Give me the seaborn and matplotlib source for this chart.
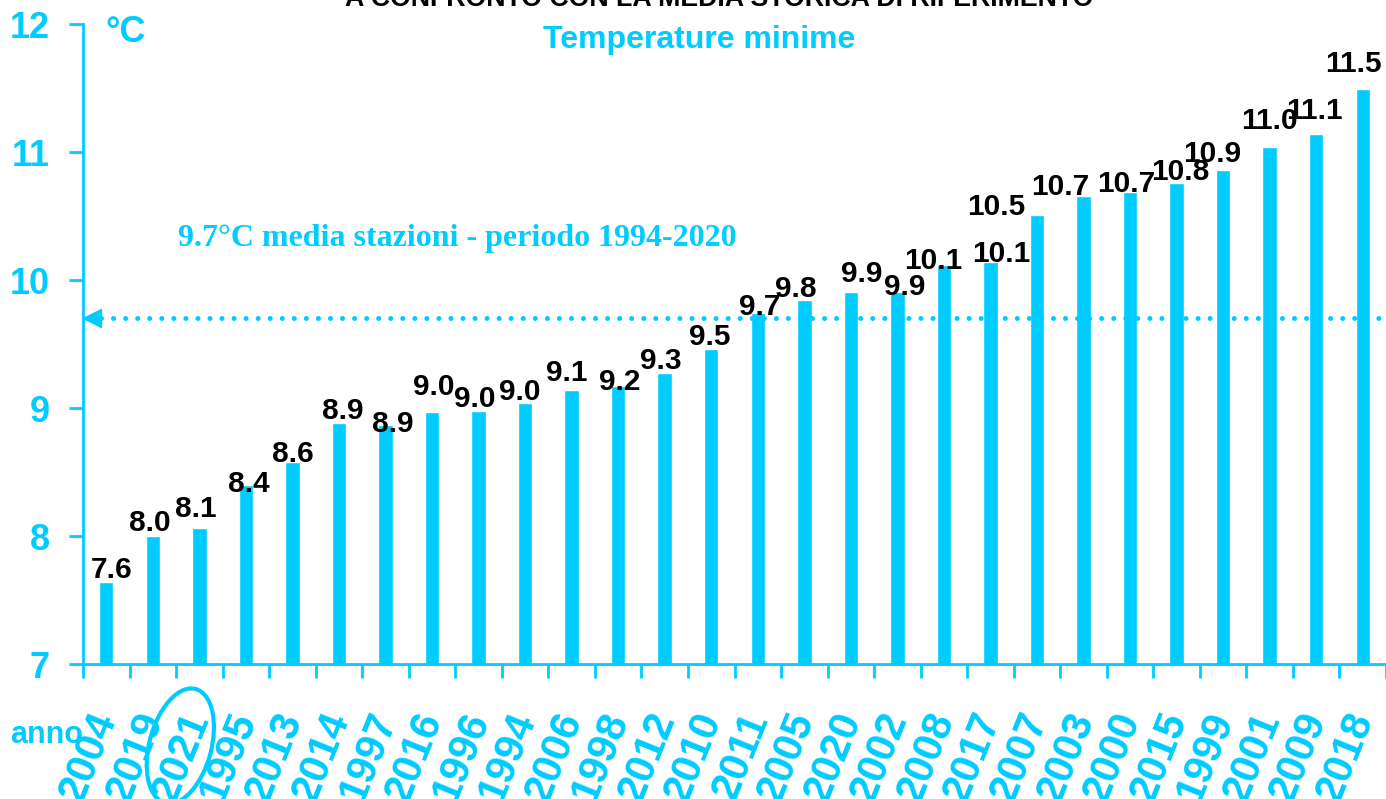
import matplotlib
matplotlib.use("Agg")
import matplotlib.pyplot as plt
import seaborn as sns
import pandas as pd
from matplotlib.patches import Ellipse
from matplotlib.transforms import IdentityTransform

# ---- data ----
anni = ["2004", "2019", "2021", "1995", "2013", "2014", "1997", "2016", "1996", "1994",
        "2006", "1998", "2012", "2010", "2011", "2005", "2020", "2002", "2008", "2017",
        "2007", "2003", "2000", "2015", "1999", "2001", "2009", "2018"]
temp_min = [7.64, 8.00, 8.06, 8.40, 8.58, 8.88, 8.87, 8.97, 8.98, 9.04,
            9.14, 9.17, 9.27, 9.46, 9.74, 9.84, 9.91, 9.91, 10.12, 10.14,
            10.51, 10.66, 10.69, 10.76, 10.86, 11.04, 11.14, 11.49]
media_storica = 9.7
y_ticks = [7, 8, 9, 10, 11, 12]
anno_evidenziato = "2021"

# ---- label layout (pixel nudges of the value labels, as in the original) ----
label_dx = [5, -3, -4, 3, 0, 4, 7, 2, -4, -5, -5, 2, -4, -1, 2, -9, 11, 7, -11, 11,
            -41, -23, -4, 4, -11, 0, -2, -9]
label_dy = [4, 5, 11, -7, 0, 4, -7, 17, 4, 3, 9, -4, 4, 4, -2, 3, 10, -3, -4, 0,
            0, 1, 0, 3, 8, 18, 15, 17]

CYAN = "#00ccff"

sns.set_theme(style="white")
plt.rcParams["font.family"] = ["Liberation Sans", "DejaVu Sans"]

df = pd.DataFrame({"anno": anni, "temp": temp_min})

W, H = 1386, 799
fig = plt.figure(figsize=(W / 100, H / 100), dpi=100)
ax = fig.add_axes([83 / W, 1 - 664 / H, (W - 83) / W, (664 - 24) / H])

sns.barplot(data=df, x="anno", y="temp", order=anni, color=CYAN, saturation=1,
            width=0.31, ax=ax)

ax.set_xlim(-0.5, 27.41)
ax.set_ylim(7, 12)
ax.set_xlabel("")
ax.set_ylabel("")

for s in ["top", "right"]:
    ax.spines[s].set_visible(False)
for s in ["left", "bottom"]:
    ax.spines[s].set_color(CYAN)
    ax.spines[s].set_linewidth(2)

ax.set_yticks(y_ticks)
ax.set_yticklabels([str(t) for t in y_ticks], fontsize=26, fontweight="bold", color=CYAN)
ax.tick_params(axis="y", direction="out", length=10, width=2, color=CYAN, pad=14, left=True)

ax.set_xticks(range(len(anni)))
ax.set_xticklabels(anni, fontsize=30, fontweight="bold", color=CYAN, rotation=68,
                   ha="right", va="center", rotation_mode="anchor")
ax.tick_params(axis="x", which="major", length=0, pad=36)
ax.set_xticks([i - 0.5 for i in range(len(anni) + 1)], minor=True)
ax.tick_params(axis="x", which="minor", direction="out", length=10, width=2,
               color=CYAN, bottom=True)

# value labels
for i, v in enumerate(temp_min):
    ax.annotate(f"{v:.1f}", xy=(i, v), xytext=(label_dx[i], label_dy[i]),
                textcoords="offset pixels", ha="center", va="baseline",
                fontsize=21.5, fontweight="bold", color="black", annotation_clip=False)

# mean line
ax.axhline(media_storica, xmin=0.014, xmax=1, color=CYAN, lw=3.6,
           linestyle=(0, (0.01, 2.4)), dash_capstyle="round")
ax.plot([0.007], [media_storica], marker="<", markersize=13, color=CYAN,
        transform=ax.get_yaxis_transform(), clip_on=False)
ax.text((178 - 83) / (W - 83), 7 + (664 - 246) / 128,
        f"{media_storica}°C media stazioni - periodo 1994-2020",
        transform=ax.get_yaxis_transform(), fontsize=23, fontweight="bold",
        family=["Liberation Serif", "DejaVu Serif"], color=CYAN, va="baseline")

# texts
fig.text(105 / W, 1 - 42 / H, "°C", fontsize=26, fontweight="bold", color=CYAN,
         va="baseline", ha="left")
fig.text(699 / W, 1 - 48 / H, "Temperature minime", fontsize=23, fontweight="bold",
         color=CYAN, va="baseline", ha="center")
fig.text(719 / W, 1 - 6 / H, "A CONFRONTO CON LA MEDIA STORICA DI RIFERIMENTO",
         fontsize=19.3, fontweight="bold", color="black", va="baseline", ha="center")
fig.text(10 / W, 1 - 743 / H, "anno", fontsize=22, fontweight="bold", color=CYAN,
         va="baseline", ha="left", zorder=0)

# ellipse around highlighted year
fig.canvas.draw()
idx = anni.index(anno_evidenziato)
px, py = ax.transData.transform((idx, 7))
ell = Ellipse((px - 19, py - 82), width=62, height=118, angle=-15, fill=False,
              edgecolor=CYAN, lw=3, transform=IdentityTransform())
fig.add_artist(ell)

fig.savefig("out.png", dpi=100)
